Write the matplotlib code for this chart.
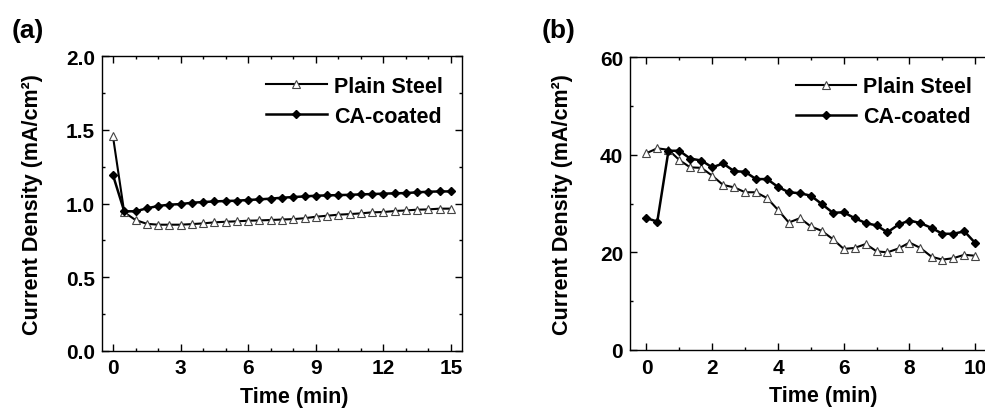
import matplotlib
matplotlib.use("Agg")
import matplotlib.pyplot as plt
from matplotlib.ticker import MultipleLocator, FormatStrFormatter

plt.rcParams['font.family'] = ['Liberation Sans', 'DejaVu Sans']
plt.rcParams['font.weight'] = 'bold'

# ---- Panel (a) data ----
time_a = [0, 0.5, 1, 1.5, 2, 2.5, 3, 3.5, 4, 4.5, 5, 5.5, 6, 6.5, 7, 7.5,
          8, 8.5, 9, 9.5, 10, 10.5, 11, 11.5, 12, 12.5, 13, 13.5, 14, 14.5, 15]
plain_a = [1.456, 0.94, 0.888, 0.862, 0.856, 0.856, 0.856, 0.860, 0.865, 0.872,
           0.876, 0.879, 0.883, 0.885, 0.888, 0.891, 0.894, 0.900, 0.910, 0.917,
           0.924, 0.928, 0.933, 0.940, 0.942, 0.949, 0.953, 0.958, 0.960, 0.965, 0.965]
coated_a = [1.193, 0.947, 0.947, 0.967, 0.983, 0.992, 0.996, 1.005, 1.010, 1.014,
            1.017, 1.019, 1.024, 1.028, 1.033, 1.039, 1.044, 1.048, 1.053, 1.055,
            1.057, 1.059, 1.062, 1.064, 1.067, 1.069, 1.071, 1.076, 1.080, 1.082, 1.082]

# ---- Panel (b) data ----
time_b = [0.00, 0.33, 0.67, 1.00, 1.33, 1.67, 2.00, 2.33, 2.67, 3.00, 3.33,
          3.67, 4.00, 4.33, 4.67, 5.00, 5.33, 5.67, 6.00, 6.33, 6.67, 7.00,
          7.33, 7.67, 8.00, 8.33, 8.67, 9.00, 9.33, 9.67, 10.00]
plain_b = [40.3, 41.3, 41.0, 38.9, 37.4, 37.3, 35.7, 33.8, 33.3, 32.3, 32.3,
           31.1, 28.7, 26.1, 27.0, 25.3, 24.4, 22.7, 20.7, 20.9, 21.7, 20.2,
           20.0, 20.8, 22.0, 20.9, 19.1, 18.5, 18.8, 19.5, 19.3]
coated_b = [27.0, 26.3, 40.8, 40.8, 39.2, 38.8, 37.4, 38.2, 36.6, 36.5, 35.0,
            35.0, 33.4, 32.3, 32.1, 31.6, 29.9, 28.1, 28.2, 27.0, 26.0, 25.5,
            24.1, 25.7, 26.5, 26.0, 25.0, 23.8, 23.8, 24.3, 21.9]

labels = ["Plain Steel", "CA-coated"]
ylabel = "Current Density (mA/cm²)"
xlabel = "Time (min)"

W, H = 985, 410
fig = plt.figure(figsize=(W / 100, H / 100), dpi=100)

def box(l, r, t, b):
    return [l / W, 1 - b / H, (r - l) / W, (b - t) / H]

ax_a = fig.add_axes(box(101.7, 462.3, 57.3, 351.7))
ax_b = fig.add_axes(box(630, 991.7, 58, 351))

tick_fs = 15
lab_fs = 15.5
leg_fs = 15.5

def style(ax, xmaj, xmin, ymaj, ymin):
    for s in ax.spines.values():
        s.set_linewidth(1.0)
    ax.xaxis.set_major_locator(MultipleLocator(xmaj))
    ax.xaxis.set_minor_locator(MultipleLocator(xmin))
    ax.yaxis.set_major_locator(MultipleLocator(ymaj))
    ax.yaxis.set_minor_locator(MultipleLocator(ymin))
    ax.tick_params(which='both', direction='in', top=True, right=True,
                   width=1.0, labelsize=tick_fs)
    ax.tick_params(which='major', length=5)
    ax.tick_params(which='minor', length=2.5)
    ax.tick_params(axis='x', pad=5.5)
    ax.tick_params(axis='y', pad=5)

def draw(ax, t, p, c):
    ax.plot(t, p, color='black', lw=1.5, marker='^', ms=5.5,
            mfc='white', mec='#444444', mew=0.8, label=labels[0])
    ax.plot(t, c, color='black', lw=1.8, marker='D', ms=4.5,
            mfc='black', mec='black', label=labels[1])
    leg = ax.legend(loc='upper right', frameon=False, fontsize=leg_fs,
                    handlelength=2.8, handletextpad=0.35, labelspacing=0.42,
                    borderaxespad=0.5)
    for tx in leg.get_texts():
        tx.set_fontweight('bold')

draw(ax_a, time_a, plain_a, coated_a)
ax_a.set_xlim(-0.5, 15.5)
ax_a.set_ylim(0, 2.0)
style(ax_a, 3, 1, 0.5, 0.25)
ax_a.yaxis.set_major_formatter(FormatStrFormatter('%.1f'))

draw(ax_b, time_b, plain_b, coated_b)
ax_b.set_xlim(-0.5, 10.5)
ax_b.set_ylim(0, 60)
style(ax_b, 2, 1, 20, 10)

for ax, lx in ((ax_a, -0.193), (ax_b, -0.188)):
    ax.set_ylabel(ylabel, fontsize=lab_fs, fontweight='bold', va='center')
    ax.yaxis.set_label_coords(lx, 0.5)
    ax.set_xlabel(xlabel, fontsize=lab_fs, fontweight='bold', va='center')
    ax.xaxis.set_label_coords(0.535, -0.154)

fig.text(12 / W, 1 - 31 / H, "(a)", fontsize=19, fontweight='bold',
         ha='left', va='center')
fig.text(542 / W, 1 - 31 / H, "(b)", fontsize=19, fontweight='bold',
         ha='left', va='center')

fig.savefig("out.png", dpi=100)
